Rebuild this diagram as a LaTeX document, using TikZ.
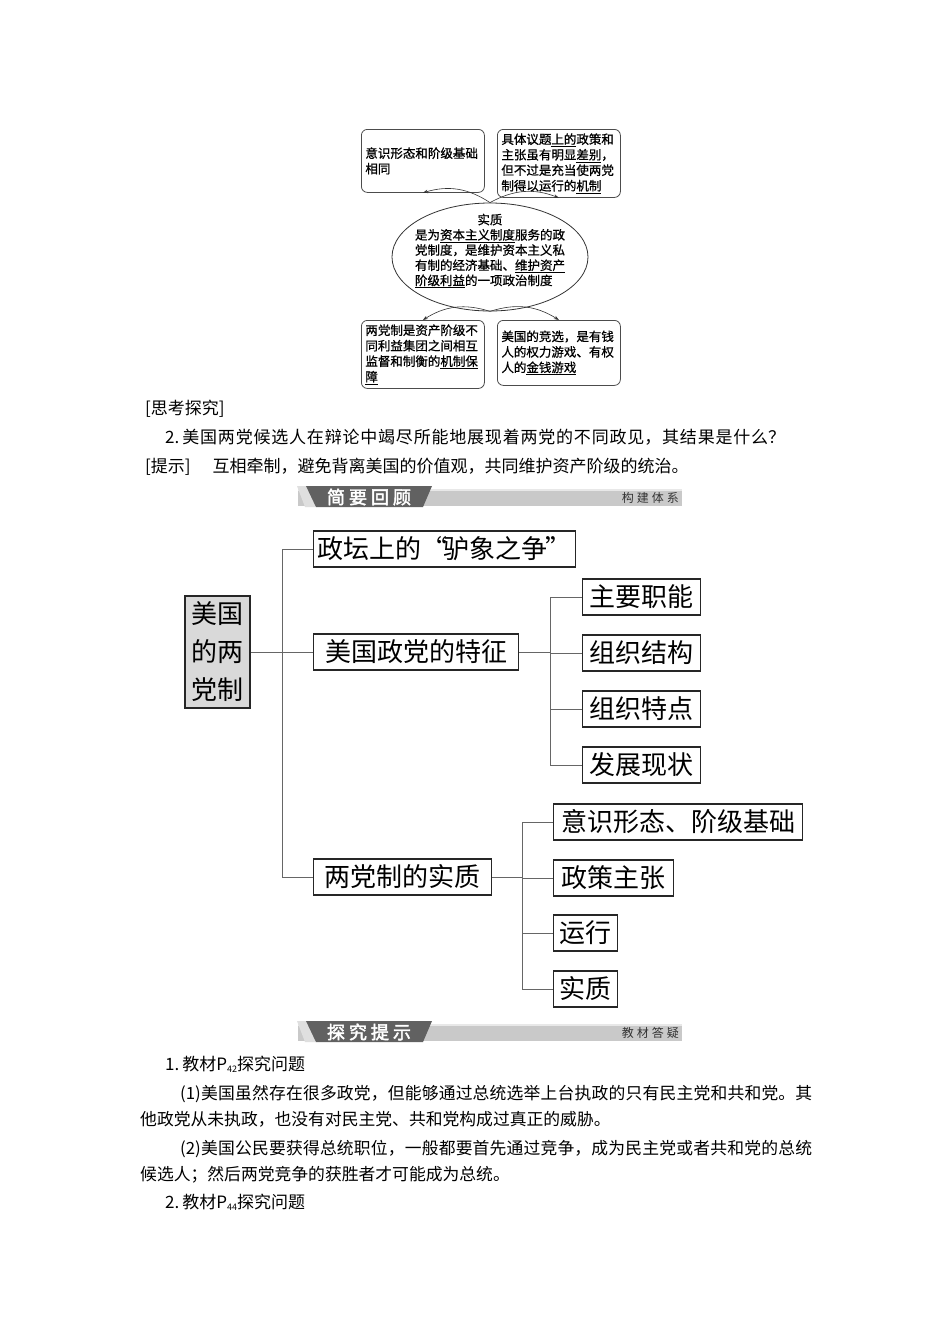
\documentclass[tikz,border=0pt]{standalone}
\usepackage{fontspec}
\setmainfont{Noto Sans CJK SC}
\newfontfamily\cjkb[FakeBold=2.5]{Noto Sans CJK SC}
\newfontfamily\cjkm[FakeBold=0.8]{Noto Sans CJK SC}
\usetikzlibrary{shapes.geometric,arrows.meta}
\XeTeXlinebreaklocale "zh"
\XeTeXlinebreakskip=0pt plus 1pt
\newcommand\udl[1]{\underline{#1}}
\newcommand\mybanner[3]{%
  \begin{scope}[shift={(0,#1)}]
    \fill[gray!42] (298,3) rectangle (682,20);
    \fill[gray!18] (298,3) rectangle (682,5);
    \fill[gray!25] (297,0) -- (306,0) -- (316,21) -- (305,21) -- cycle;
    \fill[black!62] (306,0) -- (432,0) -- (423,21) -- (316,21) -- cycle;
    \node[text=white, font=\cjkb\fontsize{18}{18}\selectfont, inner sep=0] at (369,11) {#2};
    \node[text=black!80, font=\fontsize{12}{12}\selectfont, inner sep=0, anchor=east] at (679,12) {#3};
  \end{scope}}
\begin{document}
\begin{tikzpicture}[x=1pt,y=-1pt,
  sbox/.style={draw=black!70, rounded corners=6pt, line width=0.8pt, minimum width=123pt,
    minimum height=63pt, text width=115pt, align=left, inner sep=4pt, anchor=north west,
    font=\cjkm\fontsize{12.5}{15.5}\selectfont},
  tbox/.style={draw=black!85, line width=1.1pt, font=\fontsize{26}{30}\selectfont,
    inner xsep=4pt, inner ysep=0pt, text height=22pt, text depth=4pt, minimum height=36pt, anchor=west},
  conn/.style={draw=black!60, line width=0.8pt},
  arr/.style={-{Stealth[length=5pt,width=3.5pt]}, draw=black!80, line width=0.6pt},
  body/.style={inner sep=0, font=\fontsize{17}{26}\selectfont},
  para/.style={inner sep=0, font=\fontsize{16.8}{26}\selectfont, text width=672pt, align=justify, anchor=base west}]
\useasboundingbox (0,0) rectangle (950,1344);
\fill[white] (0,0) rectangle (950,1344);

% ---- top diagram ----
\node[sbox] (tl) at (361,129) {意识形态和阶级基础\\相同};
\node[sbox] (tr) at (497,129) {具体议题\udl{上的}政策和\\主张虽有明显\udl{差别}，\\但不过是充当使两党\\制得以运行的\udl{机制}};
\node[draw=black!80, ellipse, line width=0.8pt, minimum width=196pt, minimum height=108pt, inner sep=0] (ell) at (490,257) {};
\node[font=\cjkm\fontsize{12.5}{15.2}\selectfont, align=left, inner sep=0] (ellt) at (490,251)
  {\makebox[150pt]{实质}\\是为\udl{资本主义制度}服务的政\\党制度，是维护资本主义私\\有制的经济基础、\udl{维护资产}\\\udl{阶级利益}的一项政治制度};
\node[sbox, minimum height=65pt] (bl) at (361,320) {两党制是资产阶级不\\同利益集团之间相互\\监督和制衡的\udl{机制保}\\\udl{障}};
\node[sbox, minimum height=65pt] (br) at (497,320) {美国的竞选，是有钱\\人的权力游戏、有权\\人的\udl{金钱游戏}};
\draw[arr] (ell.north) to[bend right=25] (tl.south);
\draw[arr] (ell.north) to[bend left=25] (tr.south);
\draw[arr] (ell.south) to[bend right=25] (bl.north);
\draw[arr] (ell.south) to[bend left=25] (br.north);

% ---- text ----
\node[body, anchor=base west] (q0) at (145,414) {[思考探究]};
\node[body, anchor=base west, text width=620pt, align=justify] (q1) at (165,443) {2.\hspace{3pt}美国两党候选人在辩论中竭尽所能地展现着两党的不同政见，其结果是什么？\linebreak\null};
\node[body, anchor=base west] (q2) at (145,472) {[提示]\hspace{22pt}互相牵制，避免背离美国的价值观，共同维护资产阶级的统治。};

\mybanner{486}{简\hspace{4pt}要\hspace{4pt}回\hspace{4pt}顾}{构\hspace{3pt}建\hspace{3pt}体\hspace{3pt}系}

% ---- tree ----
\node[draw=black!85, fill=gray!30, line width=1.1pt, minimum width=65pt, minimum height=112pt,
  align=center, font=\fontsize{26}{38}\selectfont, inner sep=0] (root) at (217.5,652) {美国\\的两\\党制};
\node[tbox, minimum width=262pt] (b1) at (313,549) {政坛上的“\kern-4pt驴象之争\kern-2pt”};
\node[tbox, minimum width=205pt] (b2) at (313,652) {美国政党的特征};
\node[tbox, minimum width=178pt] (b3) at (313,877) {两党制的实质};
\node[tbox, minimum width=118pt] (c1) at (582,597) {主要职能};
\node[tbox, minimum width=118pt] (c2) at (582,653) {组织结构};
\node[tbox, minimum width=118pt] (c3) at (582,709) {组织特点};
\node[tbox, minimum width=118pt] (c4) at (582,765) {发展现状};
\node[tbox, minimum width=249pt] (d1) at (553,822) {意识形态、阶级基础};
\node[tbox, minimum width=120pt] (d2) at (553,878) {政策主张};
\node[tbox, minimum width=64pt] (d3) at (553,933) {运行};
\node[tbox, minimum width=64pt] (d4) at (553,989) {实质};
\coordinate (t1) at (282,652);
\coordinate (t2) at (550,652);
\coordinate (t3) at (522,877);
\draw[conn] (root.east) -- (b2.west);
\draw[conn] (b1.west) -- (b1.west -| t1) -- (b3.west -| t1) -- (b3.west);
\draw[conn] (b2.east) -- (t2);
\draw[conn] (c1.west) -- (c1.west -| t2) -- (c4.west -| t2) -- (c4.west);
\draw[conn] (c2.west) -- (c2.west -| t2);
\draw[conn] (c3.west) -- (c3.west -| t2);
\draw[conn] (b3.east) -- (t3);
\draw[conn] (d1.west) -- (d1.west -| t3) -- (d4.west -| t3) -- (d4.west);
\draw[conn] (d2.west) -- (d2.west -| t3);
\draw[conn] (d3.west) -- (d3.west -| t3);

\mybanner{1021}{探\hspace{4pt}究\hspace{4pt}提\hspace{4pt}示}{教\hspace{3pt}材\hspace{3pt}答\hspace{3pt}疑}

% ---- answers ----
\node[body, anchor=base west] (a0) at (165,1070) {1.\hspace{3pt}教材P\raisebox{-2pt}{\fontsize{9}{9}\selectfont 42}探究问题};
\node[para] (a1) at (140,1099) {\hspace*{40pt}(1)美国虽然存在很多政党，但能够通过总统选举上台执政的只有民主党和共和党。其\linebreak 他政党从未执政，也没有对民主党、共和党构成过真正的威胁。};
\node[para] (a2) at (140,1154) {\hspace*{40pt}(2)美国公民要获得总统职位，一般都要首先通过竞争，成为民主党或者共和党的总统\linebreak 候选人；然后两党竞争的获胜者才可能成为总统。};
\node[body, anchor=base west] (a3) at (165,1208) {2.\hspace{3pt}教材P\raisebox{-2pt}{\fontsize{9}{9}\selectfont 44}探究问题};
\end{tikzpicture}
\end{document}
